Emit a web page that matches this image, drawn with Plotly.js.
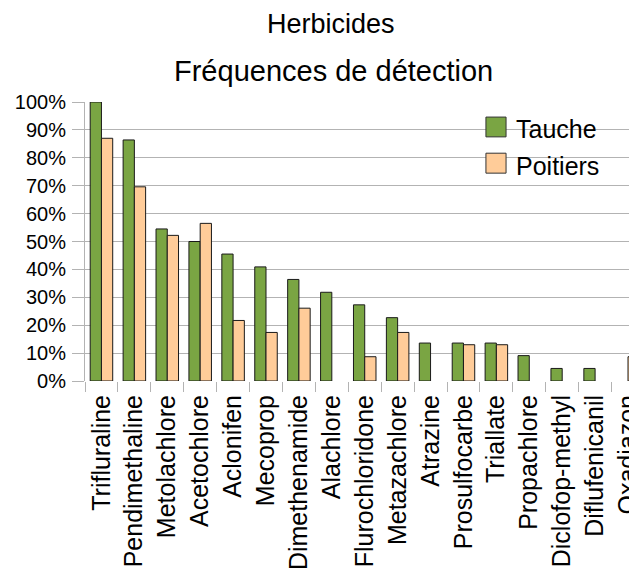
<!DOCTYPE html>
<html>
<head>
<meta charset="utf-8">
<script src="https://cdn.plot.ly/plotly-3.0.1.min.js"></script>
<style>
html,body{margin:0;padding:0;background:#fff;overflow:hidden;}
#chart{width:629px;height:574px;}
</style>
</head>
<body>
<div id="chart"></div>
<script>
const categories = ["Trifluraline","Pendimethaline","Metolachlore","Acetochlore","Aclonifen","Mecoprop","Dimethenamide","Alachlore","Flurochloridone","Metazachlore","Atrazine","Prosulfocarbe","Triallate","Propachlore","Diclofop-methyl","Diflufenicanil","Oxadiazon"];
// null = not detected (no bar drawn)
const tauche   = [1.000,0.864,0.545,0.500,0.455,0.409,0.364,0.318,0.273,0.227,0.136,0.136,0.136,0.091,0.045,0.045,null];
const poitiers = [0.870,0.696,0.522,0.565,0.217,0.174,0.261,null,0.087,0.174,null,0.130,0.130,null,null,null,0.087];
const seriesNames = ["Tauche","Poitiers"];
const yTickVals = [0,0.1,0.2,0.3,0.4,0.5,0.6,0.7,0.8,0.9,1.0];

const FONT = "Liberation Sans, Arial, sans-serif";
const GREEN = "#7aa543";
const PEACH = "#ffcc99";
const GRID = "#b3b3b3";

const traces = [
  {type:"bar", name:seriesNames[0], x:categories, y:tauche,
   marker:{color:GREEN, line:{color:"#1a1a1a", width:1}}, showlegend:false, hoverinfo:"x+y"},
  {type:"bar", name:seriesNames[1], x:categories, y:poitiers,
   marker:{color:PEACH, line:{color:"#1a1a1a", width:1}}, showlegend:false, hoverinfo:"x+y"}
];

const layout = {
  width:629, height:574,
  margin:{l:85, r:0, t:102, b:193, pad:0},
  paper_bgcolor:"#fff", plot_bgcolor:"#fff",
  font:{family:FONT, color:"#000"},
  barmode:"group", bargap:0.316, bargroupgap:0,
  xaxis:{
    type:"category", range:[-0.5,16.03], tickson:"boundaries",
    ticks:"outside", ticklen:10, tickcolor:GRID, tickwidth:1,
    tickangle:-90, ticklabelstandoff:8, tickfont:{size:25, family:FONT, color:"#000"},
    showgrid:false, showline:false, zeroline:false, fixedrange:true, automargin:false
  },
  yaxis:{
    range:[0,1], tickvals:yTickVals, tickformat:".0%",
    ticks:"outside", ticklen:12, tickcolor:GRID, tickwidth:1, ticklabelstandoff:2,
    tickfont:{size:20, family:FONT, color:"#000"},
    showgrid:true, gridcolor:GRID, gridwidth:1,
    showline:true, linecolor:GRID, linewidth:1, zeroline:false,
    fixedrange:true, automargin:false
  },
  shapes:[
    {type:"rect", xref:"paper", yref:"paper", x0:0.737, x1:0.774, y0:0.875, y1:0.946,
     fillcolor:GREEN, line:{color:"#333", width:1}},
    {type:"rect", xref:"paper", yref:"paper", x0:0.737, x1:0.774, y0:0.745, y1:0.8165,
     fillcolor:PEACH, line:{color:"#333", width:1}}
  ],
  annotations:[
    {text:"Herbicides", xref:"paper", yref:"paper", x:0.452, y:1+(102-24)/279.6,
     xanchor:"center", yanchor:"middle", showarrow:false, font:{size:27, family:FONT, color:"#000"}},
    {text:"Fréquences de détection", xref:"paper", yref:"paper", x:0.456, y:1+(102-71)/279.6,
     xanchor:"center", yanchor:"middle", showarrow:false, font:{size:29, family:FONT, color:"#000"}},
    {text:seriesNames[0], xref:"paper", yref:"paper", x:0.789, y:(381.3-129)/279.6,
     xanchor:"left", yanchor:"middle", showarrow:false, font:{size:25, family:FONT, color:"#000"}},
    {text:seriesNames[1], xref:"paper", yref:"paper", x:0.789, y:(381.3-166)/279.6,
     xanchor:"left", yanchor:"middle", showarrow:false, font:{size:25, family:FONT, color:"#000"}}
  ]
};

Plotly.newPlot("chart", traces, layout, {displayModeBar:false, staticPlot:true});
</script>
</body>
</html>
